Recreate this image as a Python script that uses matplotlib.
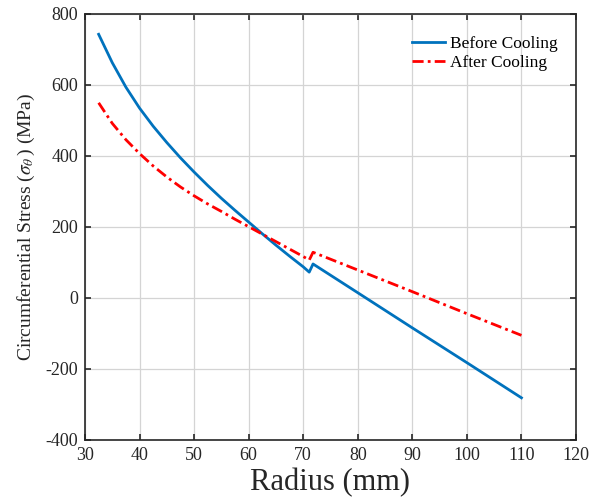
import matplotlib
matplotlib.use("Agg")
import matplotlib.pyplot as plt

radius_before = [32.5, 35, 37.5, 40, 42.5, 45, 47.5, 50, 52.5, 55, 57.5, 60, 62.5, 65, 67.5, 70, 71.1,
                 71.8, 80, 90, 100, 110]
stress_before = [742, 662, 593, 534, 483, 437, 394, 354, 316, 280, 246, 213, 180, 148, 117, 87, 72,
                 95, 14, -85, -183, -282]

radius_after = [32.5, 35, 37.5, 40, 42.5, 45, 47.5, 50, 52.5, 55, 57.5, 60, 62.5, 65, 67.5, 70, 71.1,
                71.8, 80, 90, 100, 110]
stress_after = [549, 491, 445, 406, 371, 340, 312, 287, 264, 243, 221, 200, 179, 158, 137, 116, 106,
                128, 78, 17, -45, -106]

xticks = [30, 40, 50, 60, 70, 80, 90, 100, 110, 120]
yticks = [-400, -200, 0, 200, 400, 600, 800]

plt.rcParams['font.family'] = ['Liberation Serif', 'DejaVu Serif']
plt.rcParams['mathtext.fontset'] = 'stix'
plt.rcParams['axes.unicode_minus'] = False

fig = plt.figure(figsize=(6.01, 5.04), dpi=100)
ax = fig.add_axes([85/601, 1-439.7/504, (576-85)/601, (439.7-13.7)/504])

ax.plot(radius_before, stress_before, color='#0072BD', lw=2.0, label='Before Cooling')
ax.plot(radius_after, stress_after, color='#FF0000', lw=2.0, ls=(0, (4, 1.5, 1, 1.5)), label='After Cooling')

ax.set_xlim(30, 120)
ax.set_ylim(-400, 800)
ax.set_xticks(xticks)
ax.set_yticks(yticks)
ax.grid(True, color='#d4d4d4', lw=0.9)
ax.set_axisbelow(True)
ax.tick_params(direction='in', top=True, right=True, labelsize=13, length=4, width=1.2,
               colors='#262626', pad=5)
for s in ax.spines.values():
    s.set_linewidth(1.2)
    s.set_color('#262626')

ax.set_xlabel('Radius (mm)', fontsize=22, color='#262626', labelpad=3)
ax.set_ylabel(r'Circumferential Stress ($\sigma_\theta\,$) (MPa)', fontsize=14, color='#262626', labelpad=6)

leg = ax.legend(loc='upper right', bbox_to_anchor=(0.995, 0.985), frameon=False, fontsize=12.5,
                handlelength=1.9, handletextpad=0.3, labelspacing=0.2)

fig.savefig('out.png', dpi=100)
